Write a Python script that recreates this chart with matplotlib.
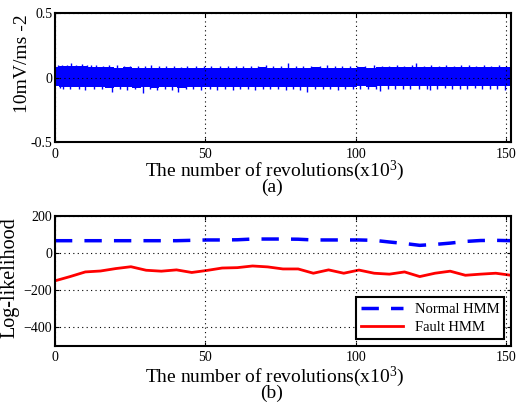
import matplotlib
matplotlib.use('Agg')
import matplotlib.pyplot as plt
import numpy as np

plt.rcParams['font.family'] = ['Liberation Serif', 'DejaVu Serif']
plt.rcParams['mathtext.fontset'] = 'custom'
plt.rcParams['mathtext.rm'] = 'Liberation Serif'
plt.rcParams['mathtext.default'] = 'regular'

# (a) vibration signal, read as an envelope of the dense trace (x in 10^3 revolutions)
env_x = [0, 3, 6, 9, 12, 15, 18, 21, 24, 27, 30, 33, 36, 39, 42, 45, 48, 51, 54, 57,
         60, 63, 66, 69, 72, 75, 78, 81, 84, 87, 90, 93, 96, 99, 102, 105, 108, 111,
         114, 117, 120, 123, 126, 129, 132, 135, 138, 141, 144, 147, 151.5]
env_upper = [0.085, 0.09, 0.088, 0.09, 0.085, 0.082, 0.085, 0.078, 0.08, 0.076, 0.075, 0.078,
             0.076, 0.074, 0.078, 0.072, 0.075, 0.074, 0.078, 0.076, 0.074, 0.078, 0.076, 0.08,
             0.076, 0.078, 0.075, 0.078, 0.076, 0.08, 0.076, 0.075, 0.078, 0.076, 0.08, 0.078,
             0.082, 0.08, 0.084, 0.08, 0.082, 0.08, 0.084, 0.08, 0.082, 0.084, 0.08, 0.084,
             0.082, 0.08, 0.084]
env_lower = [-0.066, -0.07, -0.072, -0.075, -0.072, -0.075, -0.078, -0.074, -0.076, -0.078,
             -0.076, -0.078, -0.074, -0.076, -0.078, -0.076, -0.074, -0.076, -0.072, -0.075,
             -0.074, -0.072, -0.075, -0.074, -0.07, -0.074, -0.075, -0.072, -0.074, -0.07,
             -0.072, -0.074, -0.07, -0.072, -0.068, -0.07, -0.066, -0.068, -0.064, -0.066,
             -0.068, -0.064, -0.066, -0.064, -0.066, -0.068, -0.064, -0.066, -0.064, -0.068,
             -0.066]
up_spike_x = [1.0, 2.5, 4.0, 5.5, 7.0, 9.0, 10.5, 12.0, 13.5, 16.0, 18.0, 20.5, 23.0, 25.0,
              27.5, 30.0, 32.0, 34.5, 37.0, 39.5, 42.0, 44.0, 47.0, 49.5, 52.0, 55.0, 57.5,
              60.0, 62.5, 65.0, 67.5, 70.0, 72.5, 75.0, 77.5, 80.0, 82.5, 85.0, 88.0, 90.5,
              93.0, 95.5, 98.0, 100.5, 103.0, 106.0, 108.5, 111.0, 113.5, 116.0, 118.5,
              120.0, 122.5, 125.0, 127.5, 130.0, 132.5, 135.0, 137.5, 140.0, 142.5, 145.0,
              147.5, 150.0]
up_spike_y = [0.095, 0.1, 0.098, 0.11, 0.1, 0.105, 0.096, 0.1, 0.094, 0.09, 0.095, 0.098,
              0.088, 0.092, 0.086, 0.09, 0.095, 0.088, 0.086, 0.09, 0.084, 0.088, 0.09, 0.086,
              0.09, 0.086, 0.088, 0.092, 0.086, 0.09, 0.088, 0.098, 0.086, 0.09, 0.115, 0.088,
              0.09, 0.086, 0.092, 0.095, 0.088, 0.092, 0.086, 0.09, 0.088, 0.095, 0.09, 0.092,
              0.096, 0.09, 0.094, 0.11, 0.092, 0.095, 0.09, 0.096, 0.092, 0.098, 0.094, 0.09,
              0.096, 0.092, 0.095, 0.09]
low_spike_x = [1.8, 2.7, 5.0, 8.0, 10.0, 13.0, 15.5, 18.8, 21.5, 24.0, 26.5, 29.3, 31.5,
               34.0, 36.5, 39.0, 41.0, 43.5, 46.0, 48.5, 51.5, 54.0, 56.5, 59.0, 61.5, 64.0,
               66.5, 69.0, 71.5, 74.0, 76.7, 79.0, 81.5, 83.6, 86.5, 89.0, 91.5, 94.0, 96.5,
               99.0, 101.5, 104.0, 106.5, 108.0, 110.5, 113.0, 115.5, 118.0, 121.0, 123.5,
               124.6, 127.0, 129.5, 132.0, 134.5, 137.0, 139.5, 142.0, 144.5, 147.0, 149.5]
low_spike_y = [-0.08, -0.088, -0.085, -0.09, -0.094, -0.088, -0.092, -0.11, -0.09, -0.094,
               -0.09, -0.118, -0.092, -0.095, -0.09, -0.094, -0.11, -0.092, -0.09, -0.095,
               -0.09, -0.094, -0.09, -0.095, -0.092, -0.088, -0.094, -0.09, -0.088, -0.092,
               -0.1, -0.09, -0.094, -0.11, -0.09, -0.092, -0.088, -0.094, -0.09, -0.092,
               -0.088, -0.09, -0.086, -0.105, -0.088, -0.09, -0.086, -0.09, -0.088, -0.086,
               -0.1, -0.088, -0.084, -0.09, -0.086, -0.088, -0.084, -0.09, -0.086, -0.088,
               -0.098]

# (b) log-likelihood curves
revolutions = [0, 5.05, 10.1, 15.15, 20.2, 25.25, 30.3, 35.35, 40.4, 45.45, 50.5, 55.55,
               60.6, 65.65, 70.7, 75.75, 80.8, 85.85, 90.9, 95.95, 101, 106.05, 111.1,
               116.15, 121.2, 126.25, 131.3, 136.35, 141.4, 146.45, 151.5]
normal_hmm = [65, 65, 65, 65, 65, 65, 65, 65, 65, 67, 69, 69, 70, 74, 74, 74, 73, 69, 69,
              69, 69, 67, 58, 50, 40, 45, 52, 61, 66, 67, 65]
fault_hmm = [-151, -128, -103, -98, -85, -75, -94, -99, -92, -106, -95, -82, -80, -71, -76,
             -87, -87, -110, -92, -110, -93, -110, -115, -103, -128, -110, -99, -121, -115,
             -110, -121]

xlabel = 'The number of revolutions(x10$^{3}$)'

fig = plt.figure(figsize=(5.23, 4.04), dpi=100)
ax1 = fig.add_axes([0.105, 0.6485, 0.872, 0.319])
ax2 = fig.add_axes([0.105, 0.1443, 0.872, 0.322])


def style_axes(ax):
    for s in ax.spines.values():
        s.set_linewidth(1.5)
    ax.tick_params(direction='in', top=True, right=True, labelsize=10, width=0.8,
                   length=3)
    ax.tick_params(axis='x', pad=4)
    ax.tick_params(axis='y', pad=2)
    ax.grid(True, color='black', linestyle=(0, (1, 3)), linewidth=0.8)
    ax.set_axisbelow(False)


blue = '#0000ff'
ax1.fill_between(env_x, env_lower, env_upper, step='mid', color=blue, linewidth=0)
ax1.vlines(up_spike_x, 0, up_spike_y, color=blue, linewidth=1.0)
ax1.vlines(low_spike_x, 0, low_spike_y, color=blue, linewidth=1.0)
ax1.set_xlim(0, 151.5)
ax1.set_ylim(-0.5, 0.5)
ax1.set_xticks([0, 50, 100, 150])
ax1.set_yticks([-0.5, 0, 0.5])
ax1.set_yticklabels(['-0.5', '0', '0.5'])
ax1.set_ylabel('10mV/ms -2', fontsize=14)
ax1.yaxis.set_label_coords(-0.052, 0.61)
style_axes(ax1)

ax2.plot(revolutions, normal_hmm, color=blue, linewidth=2.5, dashes=(5, 3.5),
         label='Normal HMM')
ax2.plot(revolutions, fault_hmm, color='#ff0000', linewidth=2, label='Fault HMM')
ax2.set_xlim(0, 151.5)
ax2.set_ylim(-500, 200)
ax2.set_xticks([0, 50, 100, 150])
ax2.set_yticks([-400, -200, 0, 200])
ax2.set_ylabel('Log-likelihood', fontsize=14.5)
ax2.yaxis.set_label_coords(-0.077, 0.52)
style_axes(ax2)
leg = ax2.legend(loc='lower right', fontsize=10.5, handlelength=2.9, fancybox=False,
                 framealpha=1, borderaxespad=0.45, borderpad=0.35, labelspacing=0.35)
leg.get_frame().set_edgecolor('black')
leg.get_frame().set_linewidth(1.5)

fig.text(0.526, 0.564, xlabel, fontsize=14, ha='center', va='baseline')
fig.text(0.520, 0.526, '(a)', fontsize=14, ha='center', va='baseline')
fig.text(0.526, 0.054, xlabel, fontsize=14, ha='center', va='baseline')
fig.text(0.520, 0.016, '(b)', fontsize=14, ha='center', va='baseline')

fig.savefig('out.png', dpi=100)
